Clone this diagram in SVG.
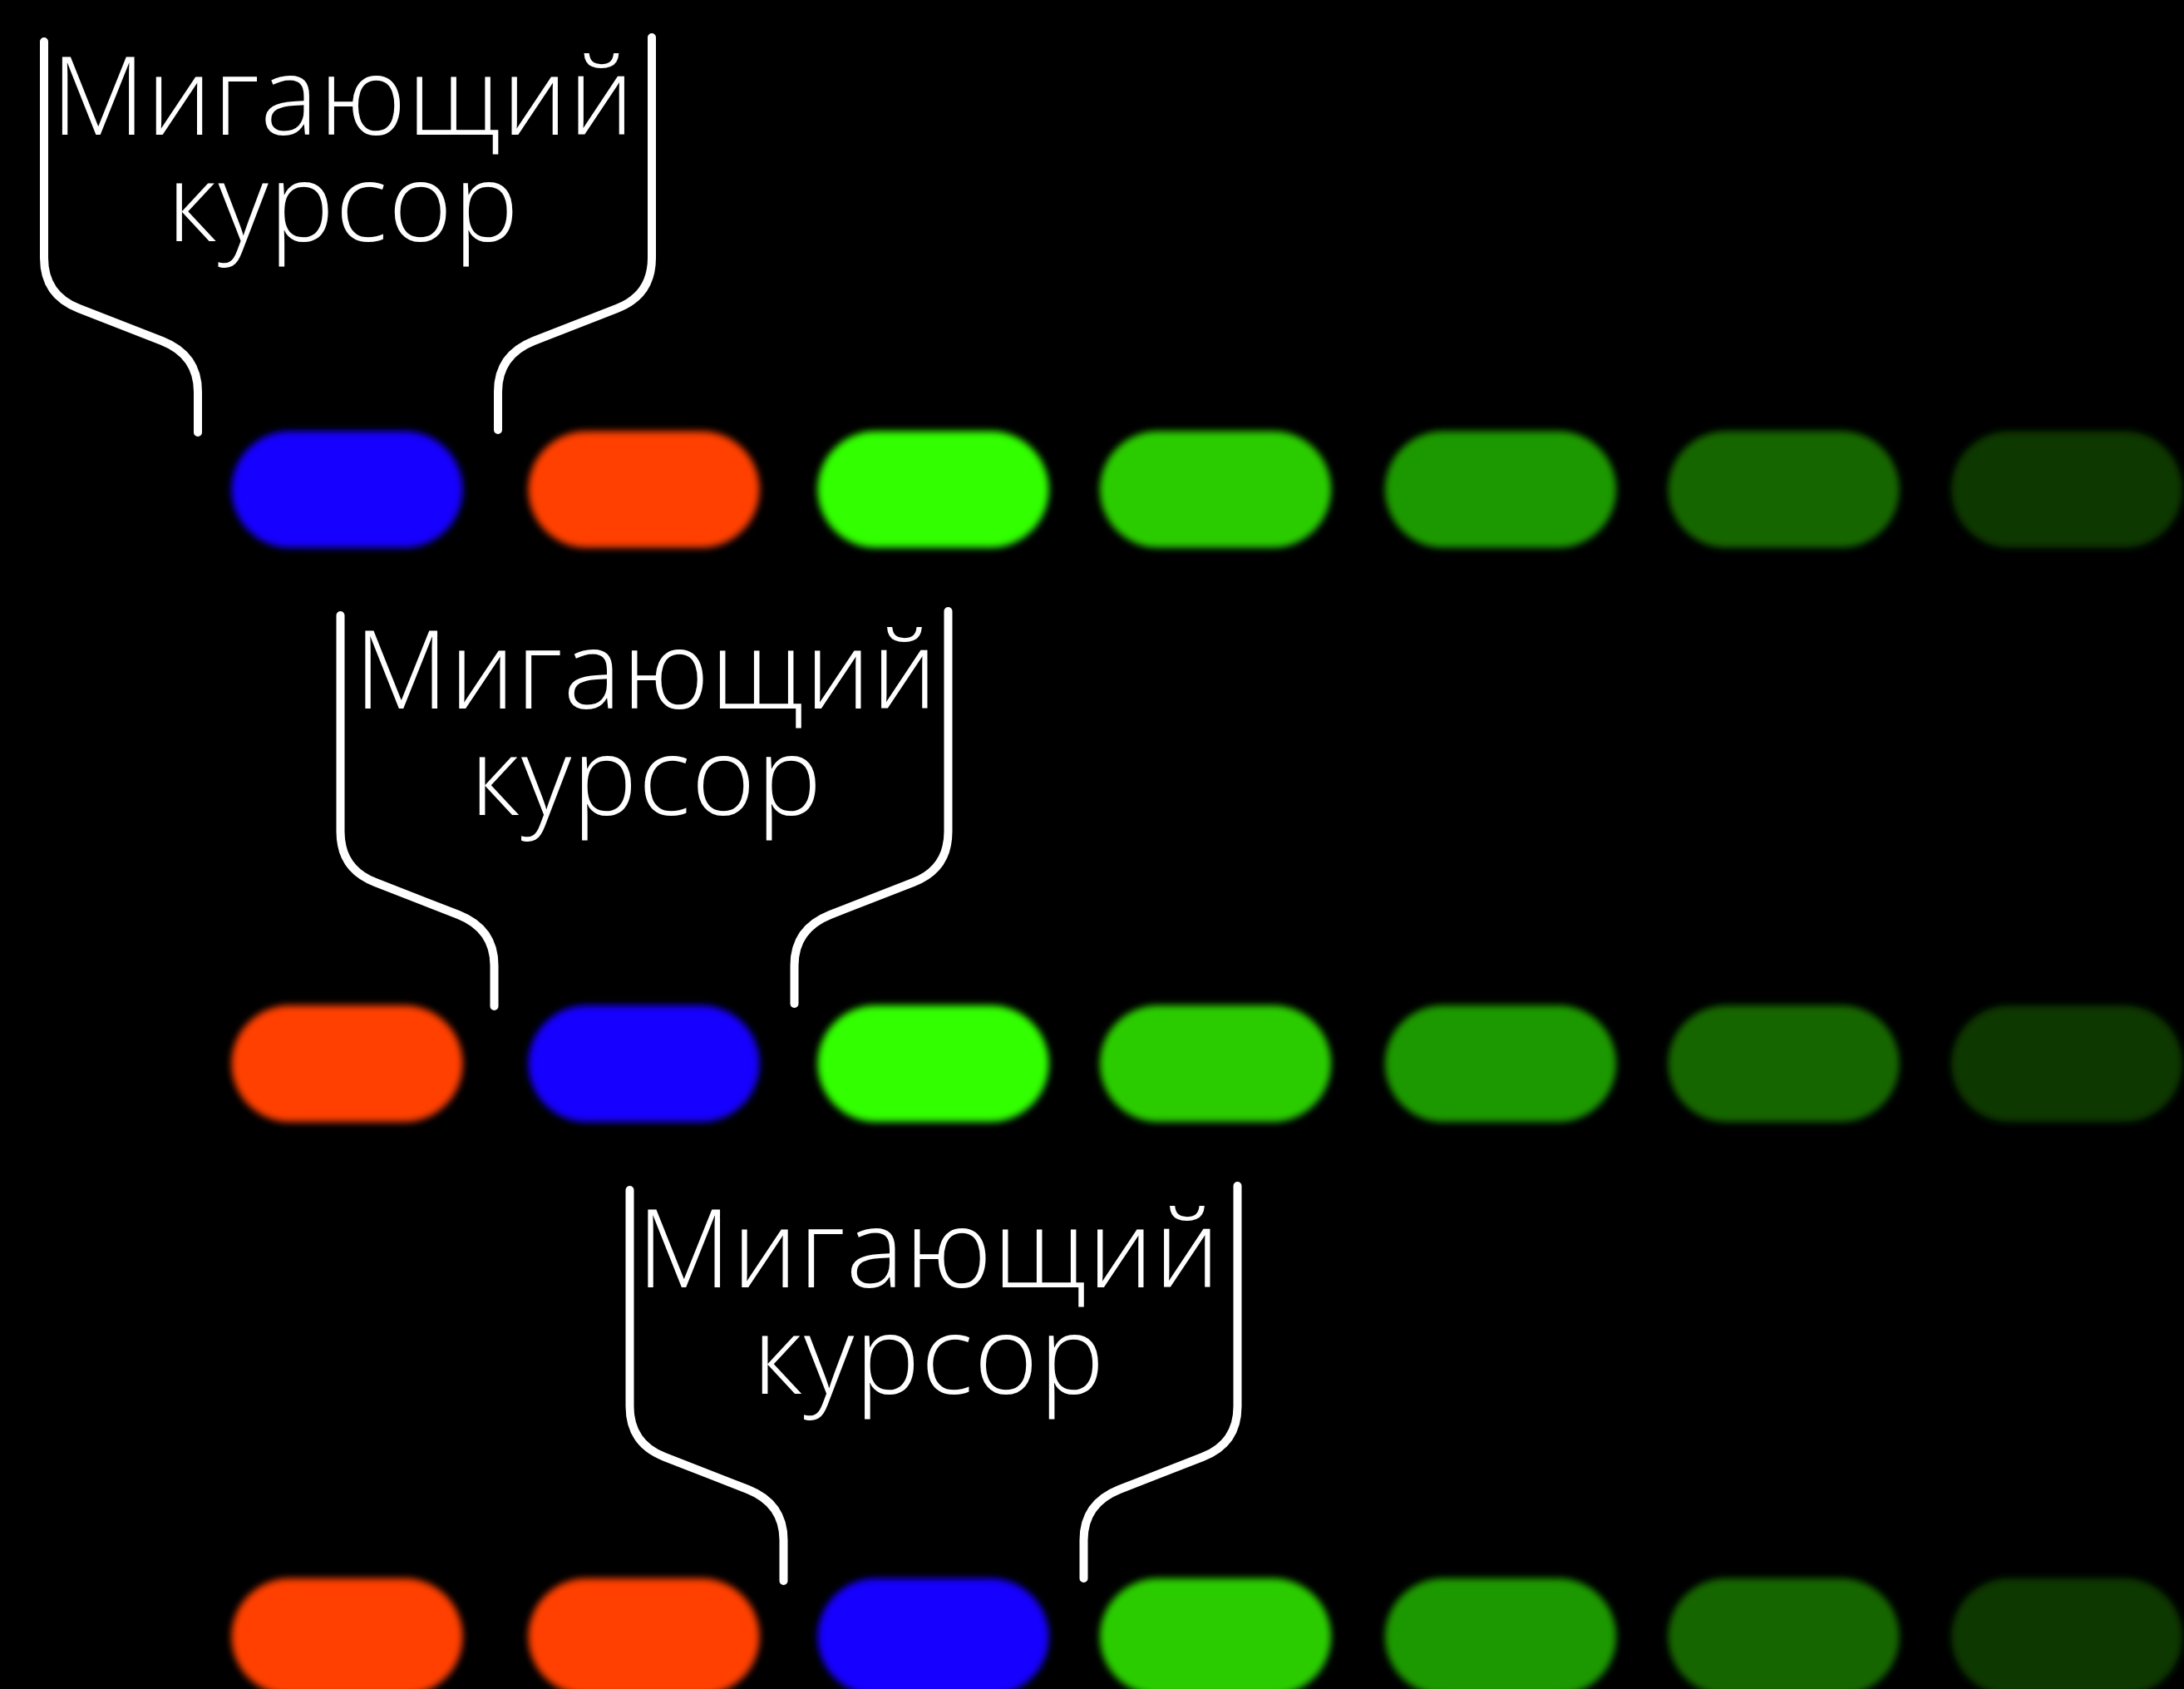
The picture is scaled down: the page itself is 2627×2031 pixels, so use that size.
<svg xmlns="http://www.w3.org/2000/svg" xmlns:xlink="http://www.w3.org/1999/xlink" width="2627" height="2031" viewBox="0 0 2627 2031">
<style>
.bg{fill:#000}
.pill{filter:url(#soft)}
.blue{fill:#1400FF}
.orange{fill:#FF4000}
.g1{fill:#33FF00}
.g2{fill:#29CC00}
.g3{fill:#1F9900}
.g4{fill:#146600}
.g5{fill:#0B3800}
.brace{fill:none;stroke:#fff;stroke-width:10;stroke-linecap:round;stroke-linejoin:round}
.lbl{font-family:"Open Sans","Noto Sans","DejaVu Sans",sans-serif;font-weight:300;font-size:131px;letter-spacing:1.5px;fill:#fff;text-anchor:middle}
</style>
<defs>
<filter id="soft" x="-10%" y="-20%" width="120%" height="140%"><feGaussianBlur stdDeviation="4"/></filter>
<rect id="p" x="-139" y="-70" width="278" height="140" rx="70" ry="70"/>
<path id="br" d="M53,50 V310 Q53,355 95,371 L195,410 Q238,427 238,471 V520 M784,45 V310 Q784,355 742,371 L642,410 Q599,427 599,471 V517"/>
</defs>
<rect class="bg" x="0" y="0" width="2627" height="2031"/>

<g id="row1">
<use xlink:href="#p" class="pill blue" x="417.5" y="588.5"/>
<use xlink:href="#p" class="pill orange" x="774.5" y="588.5"/>
<use xlink:href="#p" class="pill g1" x="1122.5" y="588.5"/>
<use xlink:href="#p" class="pill g2" x="1462" y="588.5"/>
<use xlink:href="#p" class="pill g3" x="1805" y="588.5"/>
<use xlink:href="#p" class="pill g4" x="2145.5" y="588.5"/>
<use xlink:href="#p" class="pill g5" x="2486" y="588.5"/>
</g>
<g id="row2">
<use xlink:href="#p" class="pill orange" x="417.5" y="1279"/>
<use xlink:href="#p" class="pill blue" x="774.5" y="1279"/>
<use xlink:href="#p" class="pill g1" x="1122.5" y="1279"/>
<use xlink:href="#p" class="pill g2" x="1462" y="1279"/>
<use xlink:href="#p" class="pill g3" x="1805" y="1279"/>
<use xlink:href="#p" class="pill g4" x="2145.5" y="1279"/>
<use xlink:href="#p" class="pill g5" x="2486" y="1279"/>
</g>
<g id="row3">
<use xlink:href="#p" class="pill orange" x="417.5" y="1968"/>
<use xlink:href="#p" class="pill orange" x="774.5" y="1968"/>
<use xlink:href="#p" class="pill blue" x="1122.5" y="1968"/>
<use xlink:href="#p" class="pill g2" x="1462" y="1968"/>
<use xlink:href="#p" class="pill g3" x="1805" y="1968"/>
<use xlink:href="#p" class="pill g4" x="2145.5" y="1968"/>
<use xlink:href="#p" class="pill g5" x="2486" y="1968"/>
</g>

<g id="connectors">
<use xlink:href="#br" class="brace"/>
<use xlink:href="#br" class="brace" transform="translate(356.5,690)"/>
<use xlink:href="#br" class="brace" transform="translate(704.5,1381)"/>
</g>

<g id="label1">
<text class="lbl" x="413" y="162">Мигающий</text>
<text class="lbl" x="413" y="290">курсор</text>
</g>
<g id="label2" transform="translate(356.5,690)">
<text class="lbl" x="421" y="162">Мигающий</text>
<text class="lbl" x="421" y="290">курсор</text>
</g>
<g id="label3" transform="translate(704.5,1386)">
<text class="lbl" x="413" y="162">Мигающий</text>
<text class="lbl" x="413" y="290">курсор</text>
</g>
</svg>
